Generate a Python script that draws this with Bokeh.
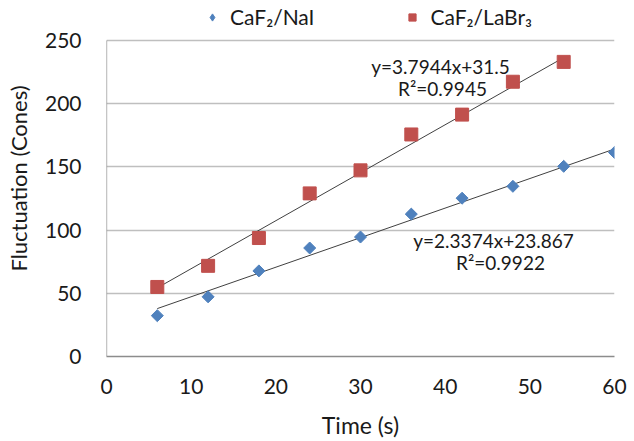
import math
import numpy as np
from bokeh.plotting import figure
from bokeh.models import Legend, LegendItem, Label, FixedTicker, Range1d
from bokeh.embed import file_html
from bokeh.resources import INLINE

# data
time_s = [6, 12, 18, 24, 30, 36, 42, 48, 54, 60]
nai = [32.3, 47.2, 67.7, 85.8, 94.5, 112.6, 125.2, 134.6, 150.4, 161.4]
time_labr = [6, 12, 18, 24, 30, 36, 42, 48, 54]
labr = [55.0, 71.7, 93.7, 129.0, 147.2, 175.6, 191.3, 217.3, 233.0]

fit_nai = (2.3374, 23.867, 0.9922)
fit_labr = (3.7944, 31.5, 0.9945)

x_ticks = [0, 10, 20, 30, 40, 50, 60]
y_ticks = [0, 50, 100, 150, 200, 250]
y_max = 250

FONT = "Lato"
BLUE = "#4F81BD"
RED = "#C0504D"
GRID = "#BFBFBF"
AXIS = "#8C8C8C"
TXT = "#1a1a1a"

# frame spans the full top (extra headroom holds the legend)
p = figure(width=634, height=441, output_backend="svg", toolbar_location=None,
           x_range=Range1d(0, 60), y_range=Range1d(0, y_max * 357 / 317),
           min_border_left=106, min_border_right=20, min_border_top=0, min_border_bottom=84)
p.outline_line_color = None
p.background_fill_color = "white"

p.xgrid.grid_line_color = None
p.ygrid.grid_line_color = GRID
p.ygrid.grid_line_width = 1.3

for ax, ticks in ((p.xaxis, x_ticks), (p.yaxis, y_ticks)):
    ax.ticker = FixedTicker(ticks=ticks)
    ax.axis_line_color = AXIS
    ax.axis_line_width = 1.3
    ax.major_tick_line_color = None
    ax.minor_tick_line_color = None
    ax.major_label_text_font = FONT
    ax.major_label_text_font_size = "21px"
    ax.major_label_text_color = TXT
    ax.axis_label_text_font = FONT
    ax.axis_label_text_font_style = "normal"
    ax.axis_label_text_color = TXT

p.yaxis.axis_line_color = None
p.line([0, 0], [0, y_max], line_color=AXIS, line_width=1.3)

p.xaxis.axis_label_text_font_size = "23px"
p.yaxis.axis_label_text_font_size = "22px"
p.xaxis.axis_label = "Time (s)"
p.yaxis.axis_label = "Fluctuation (Cones)"
p.xaxis.major_label_standoff = 16
p.yaxis.major_label_standoff = 19
p.xaxis.axis_label_standoff = 14
p.yaxis.axis_label_standoff = 10

# trend lines
def fit_line(xs, fit):
    a, b, _ = fit
    return [xs[0], xs[-1]], [a * xs[0] + b, a * xs[-1] + b]

lx, ly = fit_line(time_labr, fit_labr)
p.line(lx, ly, line_color="#404040", line_width=1)
nx, ny = fit_line(time_s, fit_nai)
p.line(nx, ny, line_color="#404040", line_width=1)

p.scatter(time_s, nai, marker="square", angle=math.pi / 4, size=8.5,
          fill_color=BLUE, line_color=BLUE)
r_labr = p.scatter(time_labr, labr, marker="square", size=13, fill_color=RED, line_color=RED)
# legend-only glyph (one undrawable NaN point) so the key shows a diamond
r_nai_key = p.scatter(np.array([np.nan]), np.array([np.nan]), marker="diamond", size=12,
                      fill_color=BLUE, line_color=BLUE)

legend = Legend(items=[LegendItem(label="CaF\u2082/NaI", renderers=[r_nai_key]),
                       LegendItem(label="CaF\u2082/LaBr\u2083", renderers=[r_labr])],
                orientation="horizontal", location=(97, 327),
                border_line_color=None, background_fill_alpha=0,
                label_text_font=FONT, label_text_font_size="21px", label_text_color=TXT,
                glyph_width=18, glyph_height=18, label_standoff=9, spacing=89,
                padding=0, margin=0)
p.add_layout(legend, "center")

def ann(x, y, txt):
    p.add_layout(Label(x=x, y=y, x_units="screen", y_units="screen", text=txt,
                       text_font=FONT, text_font_size="19px", text_color=TXT,
                       text_align="center", text_baseline="middle"))

# screen positions relative to frame bottom-left
ann(440 - 106, 357 - 67, "y=%.4fx+%.1f" % (fit_labr[0], fit_labr[1]))
ann(442 - 106, 357 - 89, "R\u00b2=%.4f" % fit_labr[2])
ann(493 - 106, 357 - 241, "y=%.4fx+%.3f" % (fit_nai[0], fit_nai[1]))
ann(500 - 106, 357 - 263, "R\u00b2=%.4f" % fit_nai[2])

open("out.html", "w").write(file_html(p, INLINE))
